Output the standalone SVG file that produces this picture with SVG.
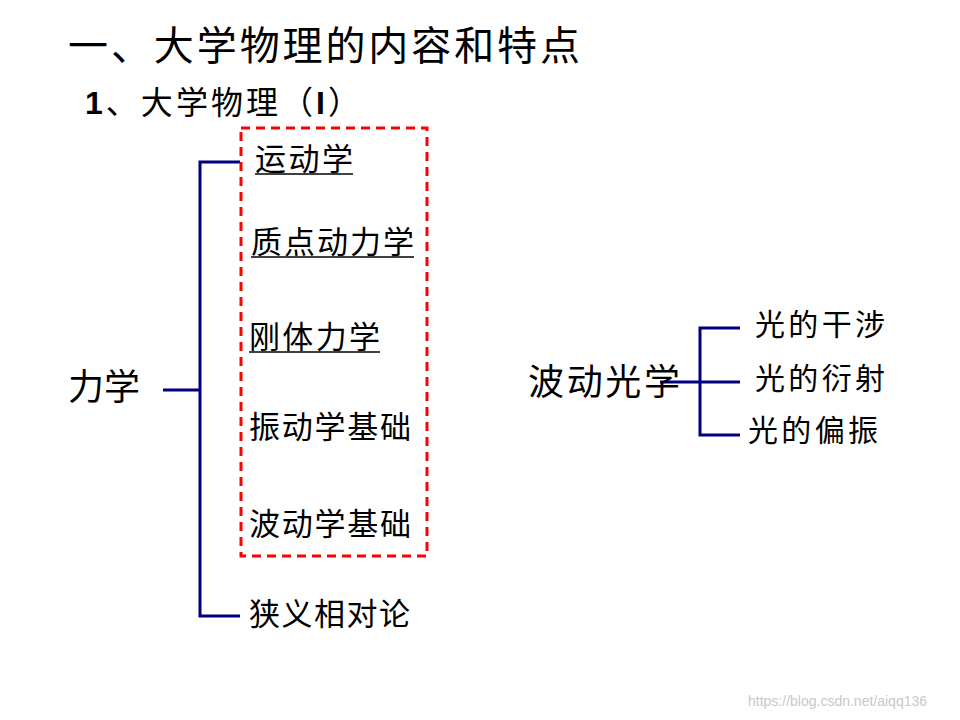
<svg xmlns="http://www.w3.org/2000/svg" width="960" height="720" viewBox="0 0 960 720">
<style>
text{font-family:"Liberation Sans","Noto Sans CJK SC",sans-serif;fill:#000}
.it{font-size:31px}
.ul{stroke:#000;stroke-width:1.5}
.br{stroke:#000080;stroke-width:3;fill:none}
</style>
<rect width="960" height="720" fill="#fff"/>
<text x="68" y="60" font-size="40" textLength="512">一、大学物理的内容和特点</text>
<text x="85" y="114" font-size="32" textLength="275"><tspan font-weight="bold">1</tspan>、大学物理（<tspan font-weight="bold">I</tspan>）</text>
<g id="connectors">
<path class="br" d="M240 162H200V616H240M163 390H200"/>
<path class="br" d="M740 328H700V435H740M660 382H740"/>
</g>
<rect id="box" x="241" y="128" width="186" height="428" fill="none" stroke="#ff0000" stroke-width="3" stroke-dasharray="9,6"/>
<g id="n-lixue"><text x="68" y="400" font-size="36">力学</text></g>
<g id="n1"><text class="it" x="255" y="170" textLength="98">运动学</text><line class="ul" x1="255" y1="174" x2="353" y2="174"/></g>
<g id="n2"><text class="it" x="251" y="253" textLength="163">质点动力学</text><line class="ul" x1="251" y1="257" x2="414" y2="257"/></g>
<g id="n3"><text class="it" x="249" y="348" textLength="131">刚体力学</text><line class="ul" x1="249" y1="352" x2="380" y2="352"/></g>
<g id="n4"><text class="it" x="249" y="438" textLength="162">振动学基础</text></g>
<g id="n5"><text class="it" x="249" y="535" textLength="162">波动学基础</text></g>
<g id="n6"><text class="it" x="249" y="625" textLength="161">狭义相对论</text></g>
<g id="n-bodong"><text x="528" y="395" font-size="36" textLength="152">波动光学</text></g>
<g id="o1"><text x="755" y="335" font-size="30" textLength="130">光的干涉</text></g>
<g id="o2"><text x="755" y="389" font-size="30" textLength="130">光的衍射</text></g>
<g id="o3"><text x="748" y="441" font-size="30" textLength="130">光的偏振</text></g>
<text x="748" y="706" font-size="14" style="fill:#c8c8c8">https://blog.csdn.net/aiqq136</text>
</svg>
